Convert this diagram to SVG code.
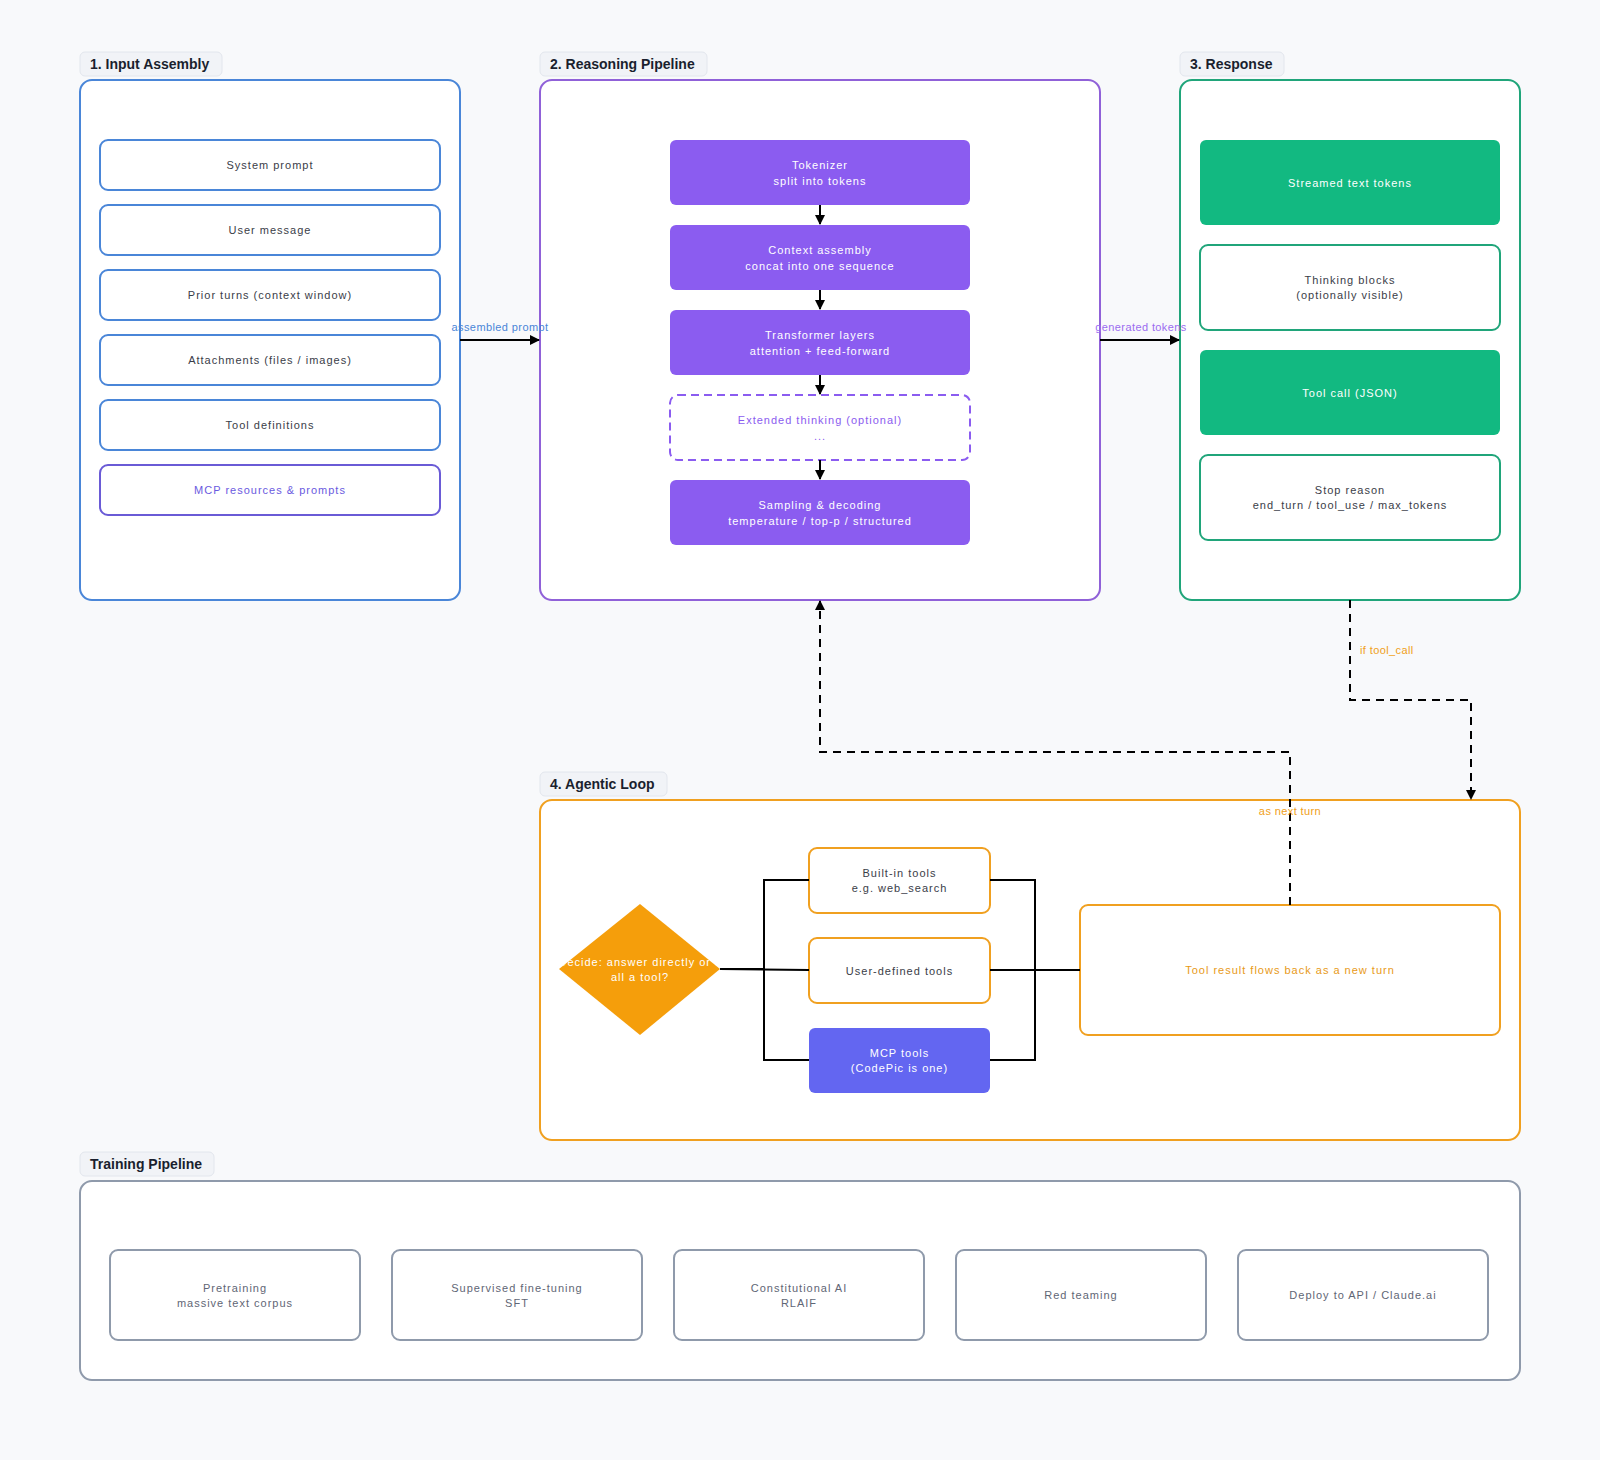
<svg xmlns="http://www.w3.org/2000/svg" width="1600" height="1460" viewBox="0 0 1600 1460">
<defs>
<style>
.bg{fill:#f8f9fb}
.pill{fill:#f1f3f7;stroke:#e2e6ed;stroke-width:1}
.ptxt{font-family:"Liberation Sans",Arial,sans-serif;font-weight:bold;font-size:14px;fill:#1a1f2e}
.cont{fill:#ffffff;stroke-width:2}
.t{font-family:"Liberation Sans",Arial,sans-serif;font-size:11px;letter-spacing:1px;text-anchor:middle;dominant-baseline:central}
.el{letter-spacing:0.4px}
.dark{fill:#3a3d48}
.wh{fill:#ffffff}
.gray{fill:#5f6675}
.edge{fill:none;stroke:#000;stroke-width:2}
.dash{fill:none;stroke:#000;stroke-width:2;stroke-dasharray:8 6}
</style>
<marker id="ah" viewBox="0 0 10 10" refX="9" refY="5" markerWidth="5" markerHeight="5" orient="auto-start-reverse">
<path d="M0,0 L10,5 L0,10 z" fill="#000"/>
</marker>
<clipPath id="dclip"><polygon points="640,904 720,969 640,1035 559,969"/></clipPath>
</defs>
<rect class="bg" x="0" y="0" width="1600" height="1460"/>

<!-- Section 1 -->
<g id="sec-input">
<rect class="pill" x="80" y="52" width="142" height="24" rx="5"/>
<text class="ptxt" x="90" y="69">1. Input Assembly</text>
<rect class="cont" x="80" y="80" width="380" height="520" rx="12" stroke="#4a86d8"/>
</g>
<g id="n-system"><rect x="100" y="140" width="340" height="50" rx="8" fill="#fff" stroke="#4a86d8" stroke-width="2"/><text class="t dark" x="270" y="165">System prompt</text></g>
<g id="n-user"><rect x="100" y="205" width="340" height="50" rx="8" fill="#fff" stroke="#4a86d8" stroke-width="2"/><text class="t dark" x="270" y="230">User message</text></g>
<g id="n-prior"><rect x="100" y="270" width="340" height="50" rx="8" fill="#fff" stroke="#4a86d8" stroke-width="2"/><text class="t dark" x="270" y="295">Prior turns (context window)</text></g>
<g id="n-attach"><rect x="100" y="335" width="340" height="50" rx="8" fill="#fff" stroke="#4a86d8" stroke-width="2"/><text class="t dark" x="270" y="360">Attachments (files / images)</text></g>
<g id="n-tooldefs"><rect x="100" y="400" width="340" height="50" rx="8" fill="#fff" stroke="#4a86d8" stroke-width="2"/><text class="t dark" x="270" y="425">Tool definitions</text></g>
<g id="n-mcpres"><rect x="100" y="465" width="340" height="50" rx="8" fill="#fff" stroke="#6a5bd6" stroke-width="2"/><text class="t" x="270" y="490" fill="#6a5ae0">MCP resources &amp; prompts</text></g>

<!-- Section 2 -->
<g id="sec-reason">
<rect class="pill" x="540" y="52" width="167" height="24" rx="5"/>
<text class="ptxt" x="550" y="69">2. Reasoning Pipeline</text>
<rect class="cont" x="540" y="80" width="560" height="520" rx="12" stroke="#9061d8"/>
</g>
<g id="n-tokenizer"><rect x="670" y="140" width="300" height="65" rx="6" fill="#8b5cf0"/><text class="t wh" x="820" y="164.5">Tokenizer</text><text class="t wh" x="820" y="180.5">split into tokens</text></g>
<g id="n-context"><rect x="670" y="225" width="300" height="65" rx="6" fill="#8b5cf0"/><text class="t wh" x="820" y="249.5">Context assembly</text><text class="t wh" x="820" y="265.5">concat into one sequence</text></g>
<g id="n-transformer"><rect x="670" y="310" width="300" height="65" rx="6" fill="#8b5cf0"/><text class="t wh" x="820" y="334.5">Transformer layers</text><text class="t wh" x="820" y="350.5">attention + feed-forward</text></g>
<g id="n-thinking"><rect x="670" y="395" width="300" height="65" rx="8" fill="#fff" stroke="#8b5cf0" stroke-width="2" stroke-dasharray="8 5"/><text class="t" x="820" y="419.5" fill="#8b5cf0">Extended thinking (optional)</text><text class="t" x="820" y="435.5" fill="#8b5cf0">...</text></g>
<g id="n-sampling"><rect x="670" y="480" width="300" height="65" rx="6" fill="#8b5cf0"/><text class="t wh" x="820" y="504.5">Sampling &amp; decoding</text><text class="t wh" x="820" y="520.5">temperature / top-p / structured</text></g>

<!-- Section 3 -->
<g id="sec-response">
<rect class="pill" x="1180" y="52" width="104" height="24" rx="5"/>
<text class="ptxt" x="1190" y="69">3. Response</text>
<rect class="cont" x="1180" y="80" width="340" height="520" rx="12" stroke="#20a57a"/>
</g>
<g id="n-streamed"><rect x="1200" y="140" width="300" height="85" rx="6" fill="#12b981"/><text class="t wh" x="1350" y="182.5">Streamed text tokens</text></g>
<g id="n-thinkblocks"><rect x="1200" y="245" width="300" height="85" rx="8" fill="#fff" stroke="#20a57a" stroke-width="2"/><text class="t dark" x="1350" y="279.5">Thinking blocks</text><text class="t dark" x="1350" y="294.5">(optionally visible)</text></g>
<g id="n-toolcall"><rect x="1200" y="350" width="300" height="85" rx="6" fill="#12b981"/><text class="t wh" x="1350" y="392.5">Tool call (JSON)</text></g>
<g id="n-stop"><rect x="1200" y="455" width="300" height="85" rx="8" fill="#fff" stroke="#20a57a" stroke-width="2"/><text class="t dark" x="1350" y="489.5">Stop reason</text><text class="t dark" x="1350" y="504.5">end_turn / tool_use / max_tokens</text></g>

<!-- Section 4 -->
<g id="sec-agentic">
<rect class="pill" x="540" y="772" width="127" height="24" rx="5"/>
<text class="ptxt" x="550" y="789">4. Agentic Loop</text>
<rect class="cont" x="540" y="800" width="980" height="340" rx="12" stroke="#f0a020"/>
</g>
<g id="n-decide"><polygon points="640,904 720,969 640,1035 559,969" fill="#f59e0b"/>
<g clip-path="url(#dclip)"><text class="t wh" x="640" y="962">Decide: answer directly or c</text><text class="t wh" x="640" y="977">all a tool?</text></g></g>
<g id="n-builtin"><rect x="809" y="848" width="181" height="65" rx="8" fill="#fff" stroke="#f0a020" stroke-width="2"/><text class="t dark" x="899.5" y="872.5">Built-in tools</text><text class="t dark" x="899.5" y="887.5">e.g. web_search</text></g>
<g id="n-userdef"><rect x="809" y="938" width="181" height="65" rx="8" fill="#fff" stroke="#f0a020" stroke-width="2"/><text class="t dark" x="899.5" y="970.5">User-defined tools</text></g>
<g id="n-mcptools"><rect x="809" y="1028" width="181" height="65" rx="6" fill="#6366f1"/><text class="t wh" x="899.5" y="1052.5">MCP tools</text><text class="t wh" x="899.5" y="1067.5">(CodePic is one)</text></g>
<g id="n-result"><rect x="1080" y="905" width="420" height="130" rx="8" fill="#fff" stroke="#f0a020" stroke-width="2"/><text class="t" x="1290" y="970" fill="#e89a18">Tool result flows back as a new turn</text></g>

<!-- Training -->
<g id="sec-training">
<rect class="pill" x="80" y="1152" width="134" height="24" rx="5"/>
<text class="ptxt" x="90" y="1169">Training Pipeline</text>
<rect class="cont" x="80" y="1181" width="1440" height="199" rx="12" stroke="#8f9aab"/>
</g>
<g id="n-pretrain"><rect x="110" y="1250" width="250" height="90" rx="8" fill="#fff" stroke="#8f9aab" stroke-width="2"/><text class="t gray" x="235" y="1287.5">Pretraining</text><text class="t gray" x="235" y="1302.5">massive text corpus</text></g>
<g id="n-sft"><rect x="392" y="1250" width="250" height="90" rx="8" fill="#fff" stroke="#8f9aab" stroke-width="2"/><text class="t gray" x="517" y="1287.5">Supervised fine-tuning</text><text class="t gray" x="517" y="1302.5">SFT</text></g>
<g id="n-cai"><rect x="674" y="1250" width="250" height="90" rx="8" fill="#fff" stroke="#8f9aab" stroke-width="2"/><text class="t gray" x="799" y="1287.5">Constitutional AI</text><text class="t gray" x="799" y="1302.5">RLAIF</text></g>
<g id="n-redteam"><rect x="956" y="1250" width="250" height="90" rx="8" fill="#fff" stroke="#8f9aab" stroke-width="2"/><text class="t gray" x="1081" y="1295">Red teaming</text></g>
<g id="n-deploy"><rect x="1238" y="1250" width="250" height="90" rx="8" fill="#fff" stroke="#8f9aab" stroke-width="2"/><text class="t gray" x="1363" y="1295">Deploy to API / Claude.ai</text></g>

<!-- Connectors -->
<g id="connectors">
<path class="edge" d="M460,340 L539,340" marker-end="url(#ah)"/>
<text class="t el" x="500" y="327" fill="#4a86d8">assembled prompt</text>
<path class="edge" d="M1100,340 L1179,340" marker-end="url(#ah)"/>
<text class="t el" x="1141" y="327" fill="#9b6cf0">generated tokens</text>
<path class="edge" d="M820,205 L820,224" marker-end="url(#ah)"/>
<path class="edge" d="M820,290 L820,309" marker-end="url(#ah)"/>
<path class="edge" d="M820,375 L820,394" marker-end="url(#ah)"/>
<path class="edge" d="M820,460 L820,479" marker-end="url(#ah)"/>
<path class="dash" d="M1350,600 L1350,700 L1471,700 L1471,799" marker-end="url(#ah)"/>
<text class="t el" x="1360" y="650" fill="#f0a020" style="text-anchor:start">if tool_call</text>
<path class="dash" d="M1290,905 L1290,752 L820,752 L820,601" marker-end="url(#ah)"/>
<text class="t el" x="1290" y="811" fill="#f0a020">as next turn</text>
<path class="edge" d="M720,969 L764,969 L764,880 L809,880"/>
<path class="edge" d="M720,969 L809,970"/>
<path class="edge" d="M764,969 L764,1060 L809,1060"/>
<path class="edge" d="M990,880 L1035,880 L1035,970 L1080,970"/>
<path class="edge" d="M990,970 L1080,970"/>
<path class="edge" d="M990,1060 L1035,1060 L1035,970"/>
</g>
</svg>
